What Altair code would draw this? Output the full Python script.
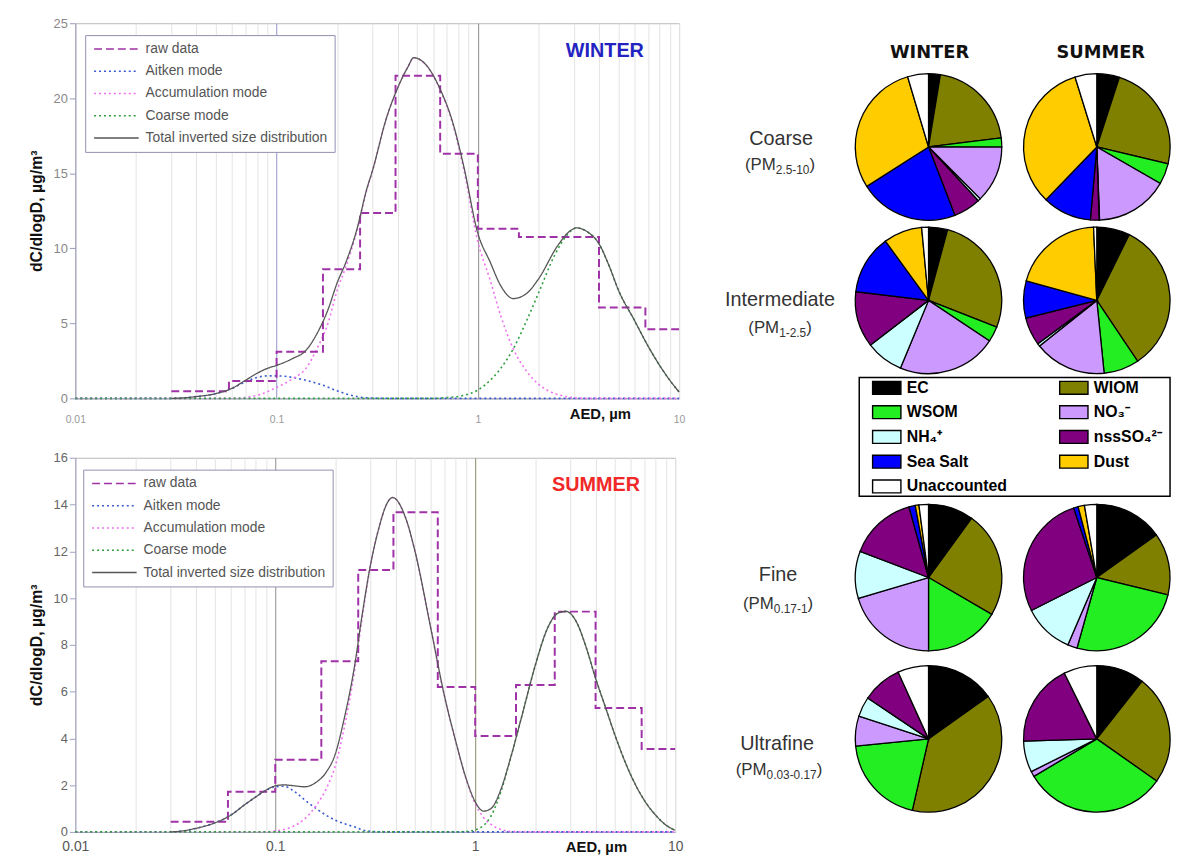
import altair as alt
import pandas as pd

FONT = "Liberation Sans"

# ---------------- size distributions ----------------
RAW_EDGES = [0.03, 0.058, 0.1, 0.17, 0.26, 0.39, 0.65, 1.0, 1.6, 2.5, 4.0, 6.8, 10.0]
WINTER_RAW = [0.47, 1.16, 3.1, 8.6, 12.35, 21.5, 16.3, 11.3, 10.75, 10.75, 6.05, 4.6]
SUMMER_RAW = [0.43, 1.72, 3.09, 7.3, 11.2, 13.67, 6.2, 4.1, 6.28, 9.42, 5.3, 3.55]

W_AIT_D = [0.01, 0.03, 0.035, 0.04, 0.05, 0.06, 0.07, 0.08, 0.09, 0.1, 0.11, 0.12, 0.14, 0.17, 0.2, 0.25, 0.3, 0.4, 10]
W_AIT_V = [0, 0, 0.04, 0.12, 0.32, 0.66, 1.1, 1.4, 1.5, 1.5, 1.47, 1.4, 1.2, 0.87, 0.5, 0.12, 0.02, 0, 0]
W_ACC_D = [0.01, 0.06, 0.08, 0.1, 0.12, 0.14, 0.16, 0.18, 0.2, 0.22, 0.25, 0.28, 0.3, 0.35, 0.4, 0.45, 0.48,
           0.55, 0.65, 0.75, 0.85, 1.0, 1.15, 1.3, 1.5, 1.75, 2.0, 2.5, 3.0, 3.5, 10]
W_ACC_V = [0, 0, 0.2, 0.73, 1.3, 2.0, 3.4, 5.0, 7.2, 8.7, 11.1, 13.85, 15.18, 18.6, 20.7, 22.1, 22.7,
           22.25, 20.55, 18.3, 15.3, 10.45, 7.9, 5.5, 3.3, 1.8, 0.95, 0.25, 0.05, 0, 0]
W_COA_D = [0.01, 0.6, 0.7, 0.85, 1.0, 1.15, 1.3, 1.5, 1.75, 2.0, 2.4, 2.8, 3.1, 3.5, 4.0, 4.5, 5.0, 6.0, 7.0, 8.0, 9.0, 10]
W_COA_V = [0, 0, 0.05, 0.2, 0.55, 1.2, 2.0, 3.3, 5.2, 7.0, 9.5, 10.95, 11.36, 11.1, 10.3, 8.8, 7.2, 5.2, 3.5, 2.2, 1.2, 0.42]
W_TOT_D = [0.03, 0.035, 0.04, 0.05, 0.06, 0.07, 0.08, 0.09, 0.1, 0.12, 0.14, 0.16, 0.18, 0.2, 0.22, 0.25, 0.28,
           0.3, 0.35, 0.4, 0.45, 0.48, 0.55, 0.65, 0.75, 0.85, 1.0, 1.15, 1.3, 1.5, 1.75, 2.0, 2.5, 2.9, 3.1,
           3.5, 4.0, 4.5, 5.0, 6.0, 7.0, 8.0, 9.0, 10]
W_TOT_V = [0, 0.04, 0.12, 0.32, 0.67, 1.2, 1.67, 2.0, 2.2, 2.65, 3.2, 4.4, 5.9, 7.7, 9.0, 11.2, 13.9,
           15.2, 18.6, 20.7, 22.1, 22.7, 22.26, 20.6, 18.4, 15.5, 11.0, 9.1, 7.5, 6.65, 7.0, 7.95, 10.2, 11.2, 11.36,
           11.1, 10.3, 8.8, 7.2, 5.2, 3.5, 2.2, 1.2, 0.42]

S_AIT_D = [0.01, 0.03, 0.035, 0.04, 0.05, 0.06, 0.07, 0.08, 0.09, 0.1, 0.11, 0.125, 0.14, 0.16, 0.18, 0.2,
           0.22, 0.25, 0.28, 0.32, 0.4, 10]
S_AIT_V = [0, 0, 0.05, 0.15, 0.39, 0.72, 1.15, 1.5, 1.78, 1.93, 1.95, 1.72, 1.38, 1.0, 0.71, 0.5,
           0.36, 0.21, 0.06, 0.01, 0, 0]
S_ACC_D = [0.01, 0.09, 0.1, 0.12, 0.14, 0.16, 0.18, 0.2, 0.22, 0.25, 0.27, 0.3, 0.33, 0.36, 0.386, 0.45,
           0.5, 0.6, 0.7, 0.8, 0.9, 1.0, 1.1, 1.2, 1.35, 1.5, 2.0, 10]
S_ACC_V = [0, 0, 0.04, 0.2, 0.55, 1.12, 1.85, 2.85, 4.35, 6.95, 8.95, 11.45, 13.0, 14.0, 14.3, 13.4,
           12.0, 8.7, 5.85, 3.85, 2.27, 1.2, 0.62, 0.32, 0.1, 0.02, 0, 0]
S_COA_D = [0.01, 0.8, 0.9, 1.0, 1.1, 1.2, 1.35, 1.5, 1.7, 2.0, 2.3, 2.6, 2.85, 3.2, 3.6, 4.0, 4.5, 5.0,
           6.0, 7.0, 8.0, 9.0, 10]
S_COA_V = [0, 0, 0.02, 0.09, 0.27, 0.68, 1.76, 3.12, 4.86, 7.14, 8.71, 9.36, 9.43, 9.0, 7.86, 6.57, 5.29, 4.14,
           2.43, 1.36, 0.71, 0.29, 0.07]
S_TOT_D = [0.03, 0.035, 0.04, 0.05, 0.06, 0.07, 0.08, 0.09, 0.1, 0.11, 0.125, 0.14, 0.16, 0.18, 0.2, 0.22,
           0.25, 0.27, 0.3, 0.33, 0.36, 0.386, 0.45, 0.5, 0.6, 0.7, 0.8, 0.9, 1.0, 1.1, 1.2, 1.35, 1.5, 1.7,
           2.0, 2.3, 2.6, 2.85, 3.2, 3.6, 4.0, 4.5, 5.0, 6.0, 7.0, 8.0, 9.0, 10]
S_TOT_V = [0, 0.05, 0.15, 0.39, 0.72, 1.15, 1.5, 1.79, 1.97, 2.01, 1.97, 1.93, 2.12, 2.56, 3.35, 4.75,
           7.16, 9.1, 11.45, 13.0, 14.0, 14.3, 13.4, 12.0, 8.7, 5.86, 3.86, 2.29, 1.29, 0.89, 1.0, 1.86, 3.14, 4.86,
           7.14, 8.71, 9.36, 9.43, 9.0, 7.86, 6.57, 5.29, 4.14, 2.43, 1.36, 0.71, 0.29, 0.07]

X_TICKS = [0.01, 0.02, 0.03, 0.04, 0.05, 0.06, 0.07, 0.08, 0.09, 0.1, 0.2, 0.3, 0.4, 0.5, 0.6, 0.7, 0.8, 0.9,
           1, 2, 3, 4, 5, 6, 7, 8, 9, 10]
X_LABELS = ["0.01", "0.1", "1", "10"]
WINTER_Y_TICKS = [0, 5, 10, 15, 20, 25]
SUMMER_Y_TICKS = [0, 2, 4, 6, 8, 10, 12, 14, 16]

SERIES = ["raw data", "Aitken mode", "Accumulation mode", "Coarse mode", "Total inverted size distribution"]
SERIES_COLORS = ["#a032a8", "#3a5ad0", "#f070f0", "#2e9e3e", "#555555"]
SERIES_DASH = [[8, 4], [2, 3], [2, 3], [2, 3], [1, 0]]

# ---------------- chemical composition pies (%) ----------------
COMPONENTS = ["EC", "WIOM", "WSOM", "NO₃⁻", "NH₄⁺", "nssSO₄²⁻", "Sea Salt", "Dust", "Unaccounted"]
COMP_COLORS = ["#000000", "#808000", "#22ee22", "#cc99ff", "#ccffff", "#800080", "#0000ff", "#ffcc00", "#ffffff"]
COARSE_WINTER = [2.6, 20.4, 2.0, 12.5, 0.6, 6.0, 21.8, 29.4, 4.6]
COARSE_SUMMER = [5.0, 23.7, 4.6, 16.1, 0.1, 1.9, 10.8, 33.0, 4.8]
INTER_WINTER = [4.2, 26.7, 3.4, 21.9, 8.3, 12.3, 13.1, 8.5, 1.5]
INTER_SUMMER = [7.3, 33.3, 7.8, 15.9, 0.6, 6.2, 8.2, 20.0, 0.7]
FINE_WINTER = [10.0, 23.4, 16.6, 20.4, 10.4, 14.9, 1.4, 0.8, 2.1]
FINE_SUMMER = [15.1, 13.7, 25.5, 2.1, 11.1, 27.3, 1.0, 1.4, 2.7]
ULTRA_WINTER = [15.2, 38.4, 19.9, 6.6, 4.4, 8.8, 0, 0, 6.8]
ULTRA_SUMMER = [10.6, 24.2, 31.7, 1.2, 6.9, 18.2, 0, 0, 7.3]

DUMMY = pd.DataFrame({"k": [0]})


def text_layer(txt, x, y, size, color="#222222", weight="normal", font=FONT, align="center", baseline="middle"):
    return alt.Chart(DUMMY).mark_text(
        text=txt, font=font, fontSize=size, fontWeight=weight, color=color, align=align, baseline=baseline
    ).encode(x=alt.value(x), y=alt.value(y))


def series_df(name, ds, vs):
    return pd.DataFrame({"D": ds, "v": vs, "series": name})


def size_panel(raw_vals, aitken, accum, coarse, total, ymax, yticks, season, season_color, season_xy,
               width, height, ylab_size, ylab_color, xlab_size, xlab_color, xlab_pad, grid_01, grid_1,
               axis_color, title_xy, legend_xy):
    label_expr = " : ".join(f"datum.value === {lab} ? '{lab}'" for lab in X_LABELS) + " : ''"
    xscale = alt.Scale(type="log", domain=[0.01, 10], nice=False)
    yscale = alt.Scale(domain=[0, ymax], nice=False, zero=True)
    xaxis = alt.Axis(
        values=X_TICKS, labelExpr=label_expr, grid=True,
        gridColor={"condition": [{"test": "datum.value === 0.1", "value": grid_01},
                                 {"test": "datum.value === 1", "value": grid_1}],
                   "value": "#e4e4e4"},
        ticks=False, domainColor=axis_color, labelFont=FONT, labelFontSize=xlab_size, labelColor=xlab_color,
        labelPadding=xlab_pad, labelFlush=False, labelOverlap=False,
        title="AED, µm", titleFont=FONT, titleFontSize=15, titleFontWeight="bold", titleColor="#111111",
        titleX=title_xy[0], titleY=title_xy[1], titleAlign="center", titleBaseline="middle",
    )
    yaxis = alt.Axis(
        values=yticks, grid=False, domainColor=axis_color, tickColor=axis_color, tickSize=6,
        labelFont=FONT, labelFontSize=ylab_size, labelColor=ylab_color, labelPadding=2,
        title="dC/dlogD, µg/m³", titleFont=FONT, titleFontSize=16, titleFontWeight="bold",
        titleColor="#111111", titlePadding=9,
    )
    legend = alt.Legend(
        orient="none", legendX=legend_xy[0], legendY=legend_xy[1], title=None,
        symbolType="M-1,0H8", symbolSize=100, symbolStrokeWidth=1.6, labelOffset=40,
        labelFont=FONT, labelFontSize=14, labelColor="#555555", labelLimit=320,
        strokeColor="#9090b0", fillColor="white", padding=7, rowPadding=8.5,
    )
    enc = dict(
        x=alt.X("D:Q", scale=xscale, axis=xaxis),
        y=alt.Y("v:Q", scale=yscale, axis=yaxis),
        stroke=alt.Stroke("series:N", scale=alt.Scale(domain=SERIES, range=SERIES_COLORS), legend=legend),
        strokeDash=alt.StrokeDash("series:N", scale=alt.Scale(domain=SERIES, range=SERIES_DASH), legend=legend),
    )
    modes_df = pd.concat([series_df(SERIES[1], *aitken), series_df(SERIES[2], *accum),
                          series_df(SERIES[3], *coarse)])
    total_df = series_df(SERIES[4], *total)
    raw_df = series_df(SERIES[0], RAW_EDGES, raw_vals + [raw_vals[-1]])

    modes_layer = alt.Chart(modes_df).mark_line(interpolate="monotone", strokeWidth=1.6).encode(**enc)
    total_layer = alt.Chart(total_df).mark_line(interpolate="monotone", strokeWidth=1.3).encode(**enc)
    raw_layer = alt.Chart(raw_df).mark_line(interpolate="step-after", strokeWidth=2).encode(**enc)
    season_layer = text_layer(season, season_xy[0], season_xy[1], 20, color=season_color, weight="bold")
    return alt.layer(modes_layer, raw_layer, total_layer, season_layer).properties(width=width, height=height)


top = size_panel(WINTER_RAW, (W_AIT_D, W_AIT_V), (W_ACC_D, W_ACC_V), (W_COA_D, W_COA_V), (W_TOT_D, W_TOT_V),
                 25, WINTER_Y_TICKS, "WINTER", "#2323c2", (535, 28), 610, 379, 13, "#888888", 10.5, "#999999", 16,
                 "#9494c8", "#8c8c8c", "#9a9ab8", (530, 15), (10, 12))
bottom = size_panel(SUMMER_RAW, (S_AIT_D, S_AIT_V), (S_ACC_D, S_ACC_V), (S_COA_D, S_COA_V), (S_TOT_D, S_TOT_V),
                    16, SUMMER_Y_TICKS, "SUMMER", "#f02828", (526, 28), 606, 378, 13, "#666666", 14, "#555555", 8,
                    "#8f8f8f", "#8a8a66", "#a0a0c0", (526, 15), (8, 12))
left = alt.vconcat(top, bottom, spacing=26).resolve_scale(stroke="independent", strokeDash="independent")

# ---------------- right-hand pies ----------------
X0, Y0 = 696, 20          # page position of the pie panel's origin
R = 74


def rx(px):
    return px - X0


def ry(py):
    return py - Y0


fill_scale = alt.Scale(domain=COMPONENTS, range=COMP_COLORS)
fill_legend = alt.Legend(
    orient="none", legendX=rx(872), legendY=ry(380), columns=2, direction="horizontal", title=None,
    symbolType="M-1,-1H3.4V1H-1Z", symbolSize=169, symbolStrokeColor="black", symbolStrokeWidth=1.4,
    labelOffset=20, labelFont=FONT, labelFontSize=16, labelFontWeight="bold", labelColor="black",
    labelLimit=200, padding=0, rowPadding=5, columnPadding=49,
)


def pie(shares, cx, cy):
    df = pd.DataFrame({"component": COMPONENTS, "share": shares, "k": list(range(len(COMPONENTS)))})
    return alt.Chart(df).transform_filter("datum.share > 0").mark_arc(
        radius=R, stroke="black", strokeWidth=1.3
    ).encode(
        theta=alt.Theta("share:Q", stack="normalize"),
        fill=alt.Fill("component:N", scale=fill_scale, legend=fill_legend),
        order=alt.Order("k:Q", sort="ascending"),
        x=alt.value(cx), y=alt.value(cy),
    )


WX, SX = rx(930), rx(1100)
ROW_Y = [ry(145), ry(300), ry(580), ry(743)]
pies = [
    pie(COARSE_WINTER, WX, ROW_Y[0]), pie(COARSE_SUMMER, SX, ROW_Y[0]),
    pie(INTER_WINTER, WX, ROW_Y[1]), pie(INTER_SUMMER, SX, ROW_Y[1]),
    pie(FINE_WINTER, WX, ROW_Y[2]), pie(FINE_SUMMER, SX, ROW_Y[2]),
    pie(ULTRA_WINTER, WX, ROW_Y[3]), pie(ULTRA_SUMMER, SX, ROW_Y[3]),
]

legend_box = alt.Chart(DUMMY).mark_rect(fill="white", stroke="black", strokeWidth=1.5).encode(
    x=alt.value(rx(860)), x2=alt.value(rx(1174)), y=alt.value(ry(378)), y2=alt.value(ry(498))
)


def pm_label(sub, cx, cy):
    big, small = 17, 12
    w_open = 1.833 * big
    w_sub = sum(0.556 if c.isdigit() else (0.278 if c == "." else 0.333) for c in sub) * small
    w_close = 0.333 * big
    left_x = cx - (w_open + w_sub + w_close) / 2
    return [
        text_layer("(PM", left_x, cy, big, color="#333333", align="left"),
        text_layer(sub, left_x + w_open, cy + 5, small, color="#333333", align="left"),
        text_layer(")", left_x + w_open + w_sub, cy, big, color="#333333", align="left"),
    ]


labels = [
    text_layer("WINTER", rx(931), ry(50), 18, color="#111111", weight="bold", font="DejaVu Sans"),
    text_layer("SUMMER", rx(1104), ry(50), 18, color="#111111", weight="bold", font="DejaVu Sans"),
    text_layer("Coarse", rx(781), ry(137), 20, color="#333333"),
    text_layer("Intermediate", rx(780), ry(300), 20, color="#333333"),
    text_layer("Fine", rx(778), ry(578), 20, color="#333333"),
    text_layer("Ultrafine", rx(777), ry(748), 20, color="#333333"),
]
labels += pm_label("2.5-10", rx(780), ry(163))
labels += pm_label("1-2.5", rx(780), ry(328))
labels += pm_label("0.17-1", rx(778), ry(607))
labels += pm_label("0.03-0.17", rx(779), ry(775))

right = alt.layer(legend_box, *pies, *labels).properties(
    width=478, height=815, view=alt.ViewBackground(stroke="transparent")
)

chart = alt.hconcat(left, right, spacing=10).resolve_scale(fill="independent").properties(
    padding={"left": 20, "top": 4, "right": 0, "bottom": 0}, background="white"
).configure(font=FONT).configure_view(stroke="#b8b8b8")

chart.save("out.html", embed_options={"renderer": "svg", "actions": False})
